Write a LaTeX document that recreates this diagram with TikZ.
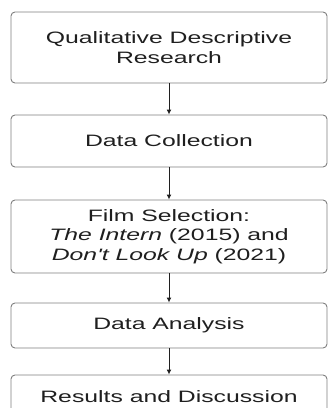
\documentclass[tikz,border=0pt]{standalone}
\usepackage{fontspec}
\usepackage{xcolor}
\usetikzlibrary{arrows.meta}
\newfontfamily\boxfont[FakeStretch=1.5]{Liberation Sans}
\definecolor{boxgray}{HTML}{7F7F7F}
\definecolor{textgray}{HTML}{1F1F1F}

\begin{document}
\begin{tikzpicture}
  [x=1pt,y=-1pt,every node/.style={draw=boxgray,line width=0.9pt,rounded corners=4pt,
   fill=white,minimum width=316pt,align=center,text=textgray,
   font=\boxfont\fontsize{16.5}{19.5}\selectfont}]
  \useasboundingbox (0,0) rectangle (328,408);
  \clip (0,0) rectangle (328,408);
  \node[minimum height=71pt] (1) at (169,47.5) {Qualitative Descriptive\\Research};
  \node[minimum height=52pt] (2) at (169,141) {Data Collection};
  \node[minimum height=73pt] (3) at (169,236.5) {Film Selection:\\\textit{The Intern} (2015) and\\\textit{Don't Look Up} (2021)};
  \node[minimum height=45pt] (4) at (169,325.5) {Data Analysis};
  \node[minimum height=44pt] (5) at (169,397) {Results and Discussion};

  \foreach \from/\to in {1/2,2/3,3/4,4/5}
    \draw[draw=textgray,line width=1pt,-{Latex[length=5pt,width=5pt]}] (\from) -- (\to);

\end{tikzpicture}
\end{document}
